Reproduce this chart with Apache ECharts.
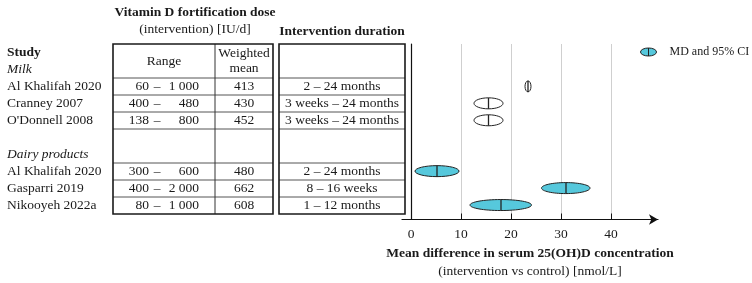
<!DOCTYPE html>
<html>
<head>
<meta charset="utf-8">
<script src="https://cdn.jsdelivr.net/npm/echarts@6/dist/echarts.min.js"></script>
<style>
  html, body { margin: 0; padding: 0; background: #fff; }
  #chart { width: 752px; height: 283px; }
</style>
</head>
<body>
<div id="chart"></div>
<script>
// data
const groups = ['Milk', 'Dairy products'];
const studies = ['Al Khalifah 2020', 'Cranney 2007', "O'Donnell 2008", 'Al Khalifah 2020', 'Gasparri 2019', 'Nikooyeh 2022a'];
const studyGroup = [0, 0, 0, 1, 1, 1];
const doseLow = [60, 400, 138, 300, 400, 80];
const doseHigh = [1000, 480, 800, 600, 2000, 1000];
const weightedMean = [413, 430, 452, 480, 662, 608];
const duration = ['2 – 24 months', '3 weeks – 24 months', '3 weeks – 24 months', '2 – 24 months', '8 – 16 weeks', '1 – 12 months'];
const meanDiff = [23.4, 15.5, 15.5, 5.2, 31.0, 18.0];
const ciLow = [22.8, 12.6, 12.6, 0.8, 26.1, 11.8];
const ciHigh = [24.0, 18.4, 18.4, 9.6, 35.8, 24.1];
const xTicks = [0, 10, 20, 30, 40];

const FONT = '"Liberation Serif", "Times New Roman", serif';
const FS = 13.5;
const INK = '#1a1a1a';
const CYAN = '#56c8dc';
const groupFill = ['#ffffff', CYAN];

// row layout: row 0 = "Study", then per group a label row, its studies, one spare row
const rows = [];
const groupRow = [];
let r = 1;
groups.forEach((g, gi) => {
  groupRow.push(r++);
  studies.forEach((s, i) => { if (studyGroup[i] === gi) rows[i] = r++; });
  r++;
});
const nRows = r - 1;
const rowMax = (220 - 44) / 17;

// table columns (x in the table grid, which is in page px)
const col = { label: 7, range: [113, 215], mean: [215, 273], dur: [279, 405], lowRight: 149, dash: 157, highRight: 199 };
const mid = (a) => (a[0] + a[1]) / 2;
const fmt = (n) => String(n).replace(/\B(?=(\d{3})+(?!\d))/g, '\u00a0');

const cells = [];
function cell(x, row, text, align, extra) {
  cells.push(Object.assign({ x, row, text, align }, extra || {}));
}
cell(195, -1.88, 'Vitamin D fortification dose', 'center', { weight: 'bold' });
cell(195, -0.85, '(intervention) [IU/d]', 'center');
cell(342, -0.72, 'Intervention duration', 'center', { weight: 'bold' });
cell(col.label, 0.5, 'Study', 'left', { weight: 'bold' });
cell(mid(col.range), 1, 'Range', 'center');
cell(mid(col.mean), 1, 'Weighted\nmean', 'center');
groups.forEach((g, gi) => cell(col.label, groupRow[gi] + 0.5, g, 'left', { style: 'italic' }));
studies.forEach((s, i) => {
  const y = rows[i] + 0.5;
  cell(col.label, y, s, 'left');
  cell(col.lowRight, y, fmt(doseLow[i]), 'right');
  cell(col.dash, y, '–', 'center');
  cell(col.highRight, y, fmt(doseHigh[i]), 'right');
  cell(mid(col.mean), y, String(weightedMean[i]), 'center');
  cell(mid(col.dur), y, duration[i], 'center');
});

// horizontal rules inside the boxes: top and bottom of every study row
const rules = [...new Set(studies.flatMap((s, i) => [rows[i], rows[i] + 1]))].filter(v => v < nRows);

const chart = echarts.init(document.getElementById('chart'));

chart.setOption({
  animation: false,
  legend: {
    left: 640,
    top: 46,
    padding: 0,
    selectedMode: false,
    itemWidth: 16,
    itemHeight: 9,
    itemStyle: { borderColor: '#222', borderWidth: 1 },
    textStyle: { fontFamily: FONT, fontSize: 12, color: INK, padding: [0, 0, 0, 8] },
    data: [{ name: 'MD and 95% CI', icon: 'path://M0,5A10,5,0,1,1,20,5A10,5,0,1,1,0,5ZM10,0L10,10' }]
  },
  grid: [
    { left: 0, top: 44, width: 752, height: 176 },
    { left: 402, top: 44, width: 256, height: 176 }
  ],
  xAxis: [
    { gridIndex: 0, type: 'value', min: 0, max: 752, show: false },
    {
      gridIndex: 1, type: 'value', min: -1.8, max: 49.4,
      axisLine: { show: true, onZero: false, symbol: ['none', 'arrow'], symbolSize: [8, 9], lineStyle: { color: '#111', width: 1.2 } },
      axisTick: { show: true, inside: true, length: 6, customValues: xTicks, lineStyle: { color: '#111' } },
      axisLabel: { customValues: xTicks, margin: 8, fontFamily: FONT, fontSize: FS, color: INK },
      splitLine: { show: true, lineStyle: { color: '#cfcfcf', width: 1 } },
      name: '{b|Mean difference in serum 25(OH)D concentration}\n{n|(intervention vs control) [nmol/L]}',
      nameLocation: 'middle',
      nameGap: 26,
      nameTextStyle: {
        rich: {
          b: { fontFamily: FONT, fontSize: FS, fontWeight: 'bold', color: INK, lineHeight: 17 },
          n: { fontFamily: FONT, fontSize: FS, color: INK, lineHeight: 17 }
        }
      }
    }
  ],
  yAxis: [
    { gridIndex: 0, type: 'value', min: 0, max: rowMax, inverse: true, show: false },
    {
      gridIndex: 1, type: 'value', min: 0, max: rowMax, inverse: true,
      axisLine: { show: true, onZero: true, lineStyle: { color: '#111', width: 1.2 } },
      axisTick: { show: false }, axisLabel: { show: false }, splitLine: { show: false }
    }
  ],
  series: [
    {
      name: 'table',
      type: 'custom',
      xAxisIndex: 0, yAxisIndex: 0,
      clip: false,
      silent: true,
      data: [col.range.concat([col.mean[1]]), col.dur.concat([col.dur[1]])],
      renderItem(params, api) {
        const x0 = api.value(0), x1 = api.value(2), split = api.value(1);
        const tl = api.coord([x0, 0]), br = api.coord([x1, nRows]);
        const children = rules.map(v => {
          const a = api.coord([x0, v]), b = api.coord([x1, v]);
          return { type: 'line', shape: { x1: a[0], y1: a[1], x2: b[0], y2: b[1] }, style: { stroke: '#555', lineWidth: 1 } };
        });
        if (split < x1) {
          const a = api.coord([split, 0]), b = api.coord([split, nRows]);
          children.push({ type: 'line', shape: { x1: a[0], y1: a[1], x2: b[0], y2: b[1] }, style: { stroke: '#333', lineWidth: 1 } });
        }
        children.push({ type: 'rect', shape: { x: tl[0], y: tl[1], width: br[0] - tl[0], height: br[1] - tl[1] }, style: { fill: 'none', stroke: '#1a1a1a', lineWidth: 1.6 } });
        return { type: 'group', children };
      }
    },
    {
      name: 'text',
      type: 'custom',
      xAxisIndex: 0, yAxisIndex: 0,
      clip: false,
      silent: true,
      data: cells.map(c => [c.x, c.row]),
      renderItem(params, api) {
        const c = cells[params.dataIndex];
        const p = api.coord([api.value(0), api.value(1)]);
        return {
          type: 'text',
          x: p[0], y: p[1],
          style: {
            text: c.text, align: c.align, verticalAlign: 'middle',
            fontFamily: FONT, fontSize: FS, fontWeight: c.weight || 'normal', fontStyle: c.style || 'normal',
            lineHeight: 15, fill: INK
          }
        };
      }
    },
    {
      name: 'MD and 95% CI',
      type: 'custom',
      xAxisIndex: 1, yAxisIndex: 1,
      clip: false,
      itemStyle: { color: CYAN },
      encode: { x: [0, 1, 2], y: 3 },
      data: studies.map((s, i) => [ciLow[i], ciHigh[i], meanDiff[i], rows[i] + 0.5, studyGroup[i]]),
      renderItem(params, api) {
        const lo = api.coord([api.value(0), api.value(3)]);
        const hi = api.coord([api.value(1), api.value(3)]);
        const m = api.coord([api.value(2), api.value(3)]);
        const ry = 5.5;
        return {
          type: 'group',
          children: [
            { type: 'ellipse', shape: { cx: (lo[0] + hi[0]) / 2, cy: m[1], rx: (hi[0] - lo[0]) / 2, ry }, style: { fill: groupFill[api.value(4)], stroke: '#222', lineWidth: 1 } },
            { type: 'line', shape: { x1: m[0], y1: m[1] - ry, x2: m[0], y2: m[1] + ry }, style: { stroke: '#222', lineWidth: 1.3 } }
          ]
        };
      }
    }
  ]
});
</script>
</body>
</html>
